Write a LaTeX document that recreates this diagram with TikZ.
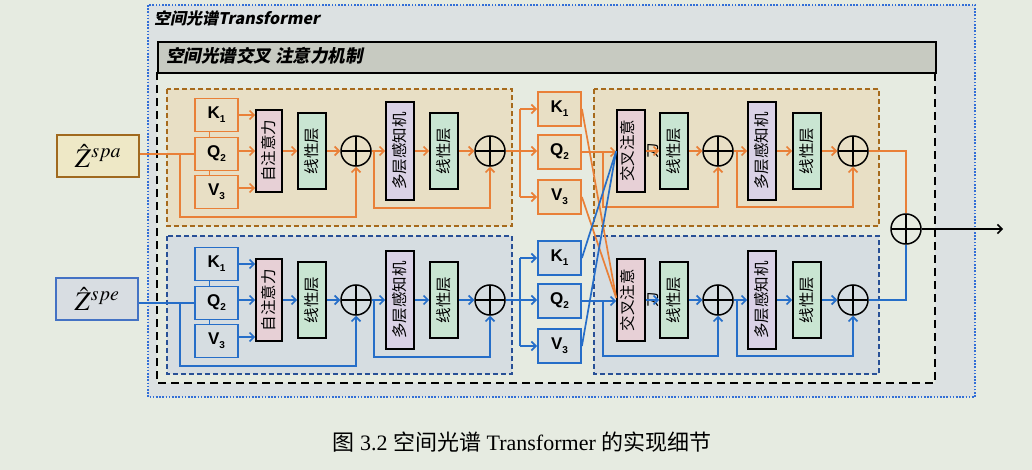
\documentclass[tikz,border=0pt]{standalone}
\usepackage{mathptmx}
\usepackage{fontspec}
\setmainfont{Liberation Serif}
\newfontfamily\cjk{Noto Sans CJK SC}
\newfontfamily\cjksl[FakeSlant=0.2]{Noto Sans CJK SC}
\newfontfamily\arialf{Liberation Sans}
\usetikzlibrary{arrows.meta,calc}
\definecolor{pagebg}{RGB}{230,235,225}
\definecolor{outerbg}{RGB}{220,225,226}
\definecolor{hdrfill}{RGB}{199,202,193}
\definecolor{orline}{RGB}{233,128,56}
\definecolor{blline}{RGB}{38,110,200}
\definecolor{orfill}{RGB}{232,223,197}
\definecolor{blfill}{RGB}{214,221,225}
\definecolor{brdash}{RGB}{166,106,28}
\definecolor{bldash}{RGB}{40,80,150}
\definecolor{zspafill}{RGB}{238,232,198}
\definecolor{zspaline}{RGB}{160,105,30}
\definecolor{zspefill}{RGB}{216,221,226}
\definecolor{zspeline}{RGB}{68,114,196}
\definecolor{safill}{RGB}{231,208,214}
\definecolor{linfill}{RGB}{201,229,210}
\definecolor{mlpfill}{RGB}{218,210,230}
\definecolor{dotblue}{RGB}{50,110,215}
\begin{document}
\begin{tikzpicture}[x=1pt,y=-1pt,
  ln/.style={line width=1.7pt},
  arr/.style={ln,-{Straight Barb[length=4.5pt,width=9pt]}},
  kqv/.style={draw, line width=1.8pt, minimum width=43pt, minimum height=33pt, inner sep=0, font=\arialf\bfseries\fontsize{17}{17}\selectfont},
  mkqv/.style={kqv, minimum height=34pt},
  blk/.style={draw=black, line width=1.6pt, inner sep=0},
  sabox/.style={blk, fill=safill, minimum width=26pt, minimum height=82pt},
  linbox/.style={blk, fill=linfill, minimum width=28pt, minimum height=76pt},
  mlpbox/.style={blk, fill=mlpfill, minimum width=28pt, minimum height=98pt},
  vtxt/.style={rotate=90, font=\cjk\fontsize{15.5}{24}\selectfont, inner sep=0},
  plus/.style={circle, draw=black, line width=1.5pt, minimum size=30pt, inner sep=0,
    path picture={\draw[line width=1.5pt] (path picture bounding box.north) -- (path picture bounding box.south) (path picture bounding box.west) -- (path picture bounding box.east);}},
  zbox/.style={line width=1.8pt, minimum width=82pt, minimum height=42pt, inner sep=0, font=\fontsize{27}{27}\selectfont},
  blockor/.style={draw=brdash, fill=orfill, line width=1.6pt, dash pattern=on 5pt off 3pt},
  blockbl/.style={draw=bldash, fill=blfill, line width=1.6pt, dash pattern=on 5pt off 3pt}
]
\useasboundingbox[fill=pagebg] (0,0) rectangle (1032,470);
% outer box
\draw[dotblue, line width=1.6pt, dash pattern=on 1.6pt off 1.6pt, fill=outerbg] (148,5) rectangle (975,397);
\node[anchor=west, inner sep=0, font=\cjksl\bfseries\fontsize{16}{18}\selectfont] (title) at (154,18) {空间光谱Transformer};
% inner box
\fill[pagebg] (157,72) rectangle (935,383);
\draw[black, line width=1.8pt, dash pattern=on 8pt off 5pt] (157,72) -- (157,383) -- (935,383) -- (935,72);
\node[draw, line width=1.8pt, fill=hdrfill, minimum width=778pt, minimum height=31pt, anchor=north west, inner sep=0] (hdr) at (157,41) {};
\node[anchor=west, inner sep=0, font=\cjksl\bfseries\fontsize{17.5}{20}\selectfont] (hdrt) at (166,56) {空间光谱交叉 注意力机制};
% blocks
\draw[blockor] (167,89) rectangle (512,226);
\draw[blockbl] (167,236) rectangle (512,374);
\draw[blockor] (594,89) rectangle (879,226);
\draw[blockbl] (594,236) rectangle (879,374);
% inputs
\node[zbox, draw=zspaline, fill=zspafill] (zspa) at (98,156) {$\hat{Z}^{spa}$};
\node[zbox, draw=zspeline, fill=zspefill] (zspe) at (97,299) {$\hat{Z}^{spe}$};
\foreach \r/\c/\f/\p/\z in {151/orline/orfill/t/zspa,300/blline/blfill/b/zspe}{
  \node[kqv, draw=\c, fill=\f] (\p K) at (216.5,\r-36) {K\raisebox{-4pt}{\fontsize{10}{10}\selectfont 1}};
  \node[kqv, draw=\c, fill=\f] (\p Q) at (216.5,\r+3) {Q\raisebox{-4pt}{\fontsize{10}{10}\selectfont 2}};
  \node[kqv, draw=\c, fill=\f] (\p V) at (216.5,\r+41) {V\raisebox{-4pt}{\fontsize{10}{10}\selectfont 3}};
  \draw[\c, ln] ([xshift=-7pt]\p K.south) -- ([xshift=-7pt]\p Q.north);
  \draw[\c, ln] ([xshift=-7pt]\p Q.south) -- ([xshift=-7pt]\p V.north);
  \node[sabox] (\p sa) at (269,\r) {};
  \node[vtxt] (\p sat) at (269,\r) {自注意力};
  \node[linbox] (\p la) at (312,\r) {};
  \node[vtxt] (\p lat) at (312,\r) {线性层};
  \node[plus] (\p ca) at (356,\r) {};
  \node[mlpbox] (\p mlp) at (400,\r) {};
  \node[vtxt] (\p mlpt) at (400,\r) {多层感知机};
  \node[linbox] (\p lb) at (444,\r) {};
  \node[vtxt] (\p lbt) at (444,\r) {线性层};
  \node[plus] (\p cb) at (490,\r) {};
  \node[mkqv, draw=\c, fill=\f] (\p MK) at (559.5,\r-42) {K\raisebox{-4pt}{\fontsize{10}{10}\selectfont 1}};
  \node[mkqv, draw=\c, fill=\f] (\p MQ) at (559.5,\r+1) {Q\raisebox{-4pt}{\fontsize{10}{10}\selectfont 2}};
  \node[mkqv, draw=\c, fill=\f] (\p MV) at (559.5,\r+46) {V\raisebox{-4pt}{\fontsize{10}{10}\selectfont 3}};
  \node[sabox, minimum width=28pt] (\p x) at (631,\r) {};
  \node[vtxt, align=center] (\p xt) at (640,\r) {交叉注意\\力};
  \node[linbox] (\p lc) at (674,\r) {};
  \node[vtxt] (\p lct) at (674,\r) {线性层};
  \node[plus] (\p cc) at (718,\r) {};
  \node[mlpbox] (\p mlpb) at (762,\r) {};
  \node[vtxt] (\p mlpbt) at (762,\r) {多层感知机};
  \node[linbox] (\p ld) at (807,\r) {};
  \node[vtxt] (\p ldt) at (807,\r) {线性层};
  \node[plus] (\p cd) at (853,\r) {};
  % connectors
  \coordinate (\p b1) at (180,\r+66);
  \coordinate (\p b2) at (374,\r+57);
  \coordinate (\p b3) at (520,\r);
  \coordinate (\p b4) at (603,\r+56);
  \coordinate (\p b5) at (737,\r+56);
  \draw[\c, ln] (\z.east |- \p Q.west) -- (\p Q.west);
  \draw[\c, arr] (\p b1 |- \p Q.west) -- (\p b1) -| (\p ca.south);
  \draw[\c, arr] (\p K.east) -- (\p K.east -| \p sa.west);
  \draw[\c, arr] (\p Q.east |- \p sa.west) -- (\p sa.west);
  \draw[\c, arr] ([yshift=4pt]\p V.east) -- ([yshift=4pt]\p V.east -| \p sa.west);
  \draw[\c, arr] (\p sa.east) -- (\p la.west);
  \draw[\c, arr] (\p la.east) -- (\p ca.west);
  \draw[\c, arr] (\p ca.east) -- (\p mlp.west);
  \draw[\c, arr] (\p b2 |- \p ca.east) -- (\p b2) -| (\p cb.south);
  \draw[\c, arr] (\p mlp.east) -- (\p lb.west);
  \draw[\c, arr] (\p lb.east) -- (\p cb.west);
  \draw[\c, arr] (\p cb.east) -- (\p cb.east -| \p MQ.west);
  \draw[\c, ln] (\p b3 |- \p MK.west) -- (\p b3 |- \p MV.west);
  \draw[\c, arr] (\p b3 |- \p MK.west) -- (\p MK.west);
  \draw[\c, arr] (\p b3 |- \p MV.west) -- (\p MV.west);
  \draw[\c, arr] (\p MQ.east) -- (\p MQ.east -| \p x.west);
  \draw[\c, arr] (\p b4 |- \p x.west) -- (\p b4) -| (\p cc.south);
  \draw[\c, arr] (\p x.east) -- (\p lc.west);
  \draw[\c, arr] (\p lc.east) -- (\p cc.west);
  \draw[\c, arr] (\p cc.east) -- (\p mlpb.west);
  \draw[\c, arr] (\p b5 |- \p cc.east) -- (\p b5) -| (\p cd.south);
  \draw[\c, arr] (\p mlpb.east) -- (\p ld.west);
  \draw[\c, arr] (\p ld.east) -- (\p cd.west);
}
% cross connections
\draw[orline, ln] (tMK.east) -- ([yshift=2pt]bx.west);
\draw[orline, ln] (tMV.east) -- ([yshift=2pt]bx.west);
\draw[blline, ln] (bMK.east) -- (tx.west);
\draw[blline, ln] (bMV.east) -- (tx.west);
% final merge
\node[plus] (F) at (906,229) {};
\coordinate (out) at (1003,229);
\draw[orline, ln] (tcd.east) -| (F.north);
\draw[blline, ln] (bcd.east) -| (F.south);
\draw[black, arr, line width=1.5pt] (F.east) -- (out);
% caption
\node[font=\fontsize{22}{22}\selectfont] (cap) at (522,442) {{\cjk 图} 3.2 {\cjk 空间光谱} Transformer {\cjk 的实现细节}};
\end{tikzpicture}
\end{document}
